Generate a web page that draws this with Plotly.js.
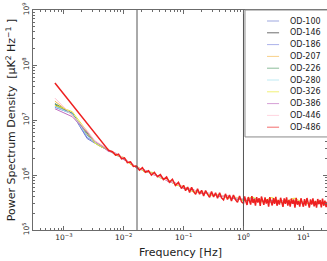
<!DOCTYPE html>
<html>
<head>
<meta charset="utf-8">
<script src="https://cdn.plot.ly/plotly-3.0.1.min.js"></script>
<style>html,body{margin:0;padding:0;background:#fff;}#chart{width:327px;height:261px;}</style>
</head>
<body>
<div id="chart"></div>
<script>
// ---- data ----
var seriesNames = ['OD-100','OD-146','OD-186','OD-207','OD-226','OD-280','OD-326','OD-386','OD-446','OD-486'];
var seriesColors = ['#6a7bcf','#222222','#7f89e0','#f6b84a','#4f9a66','#9fe0ee','#eaea30','#c06ec0','#ffc0d0','#ee2020'];

var freq = [7.1e-4, 1.38e-3, 2.45e-3, 3.3e-3, 4.3e-3, 5.5e-3, 7.3e-3, 0.01, 0.013, 0.017, 0.022, 0.03, 0.04, 0.055, 0.075, 0.1, 0.14, 0.2, 0.28, 0.4, 0.55, 0.75, 1.0, 1.4, 2, 3, 4.5, 7, 11, 17, 25];

var od100 = [1.7e7, 1.3e7, 4.6e6, 3.8e6, 3.2e6, 2.9e6, 2.3e6, 2.05e6, 1.58e6, 1.38e6, 1.16e6, 1.10e6, 9.0e5, 8.1e5, 6.6e5, 6.1e5, 5.1e5, 4.9e5, 4.4e5, 4.3e5, 3.9e5, 3.85e5, 3.45e5, 3.9e5, 3.3e5, 3.45e5, 3.15e5, 3.3e5, 3.05e5, 3.2e5, 2.95e5];
var od146 = [1.9e7, 1.3e7, 5.3e6, 3.9e6, 3.35e6, 2.8e6, 2.45e6, 1.95e6, 1.65e6, 1.32e6, 1.22e6, 1.05e6, 9.4e5, 7.8e5, 6.9e5, 5.8e5, 5.3e5, 4.75e5, 4.55e5, 4.15e5, 4.05e5, 3.7e5, 3.6e5, 3.4e5, 3.45e5, 3.25e5, 3.3e5, 3.1e5, 3.2e5, 3.05e5, 3.1e5];
var od186 = [1.8e7, 1.35e7, 4.8e6, 4.0e6, 3.2e6, 2.9e6, 2.35e6, 2.05e6, 1.6e6, 1.4e6, 1.17e6, 1.09e6, 9.1e5, 8.0e5, 6.7e5, 6.0e5, 5.15e5, 4.9e5, 4.4e5, 4.3e5, 3.9e5, 3.85e5, 3.5e5, 3.55e5, 3.3e5, 3.4e5, 3.15e5, 3.25e5, 3.05e5, 3.15e5, 3.0e5];
var od207 = [2.2e7, 1.25e7, 5.6e6, 3.95e6, 3.4e6, 2.75e6, 2.45e6, 1.95e6, 1.66e6, 1.32e6, 1.23e6, 1.04e6, 9.5e5, 7.7e5, 7.0e5, 5.8e5, 5.4e5, 4.7e5, 4.6e5, 4.1e5, 4.1e5, 3.65e5, 3.65e5, 3.4e5, 3.5e5, 3.2e5, 3.35e5, 3.1e5, 3.2e5, 3.0e5, 3.1e5];
var od226 = [2.0e7, 1.3e7, 5.8e6, 3.9e6, 3.3e6, 2.85e6, 2.38e6, 2.02e6, 1.6e6, 1.37e6, 1.19e6, 1.08e6, 9.2e5, 7.9e5, 6.75e5, 5.95e5, 5.2e5, 4.85e5, 4.45e5, 4.25e5, 3.95e5, 3.8e5, 3.5e5, 3.5e5, 3.35e5, 3.35e5, 3.2e5, 3.2e5, 3.1e5, 3.1e5, 3.05e5];
var od280 = [1.75e7, 1.28e7, 5.2e6, 3.95e6, 3.3e6, 2.8e6, 2.4e6, 2.0e6, 1.62e6, 1.36e6, 1.2e6, 1.07e6, 9.3e5, 7.9e5, 6.8e5, 5.9e5, 5.25e5, 4.8e5, 4.5e5, 4.2e5, 4.0e5, 3.75e5, 3.55e5, 3.45e5, 3.4e5, 3.3e5, 3.25e5, 3.15e5, 3.15e5, 3.05e5, 3.05e5];
var od326 = [1.85e7, 1.42e7, 6.2e6, 3.8e6, 3.2e6, 2.95e6, 2.3e6, 2.1e6, 1.55e6, 1.42e6, 1.15e6, 1.12e6, 8.9e5, 8.2e5, 6.5e5, 6.2e5, 5.0e5, 5.0e5, 4.3e5, 4.4e5, 3.8e5, 3.95e5, 3.4e5, 4.0e5, 3.25e5, 3.9e5, 3.1e5, 3.8e5, 3.0e5, 3.25e5, 2.95e5];
var od386 = [1.6e7, 1.15e7, 6.0e6, 4.1e6, 3.4e6, 2.7e6, 2.5e6, 1.9e6, 1.7e6, 1.3e6, 1.25e6, 1.02e6, 9.6e5, 7.6e5, 7.1e5, 5.7e5, 5.5e5, 4.65e5, 4.65e5, 4.05e5, 4.15e5, 3.6e5, 3.7e5, 3.35e5, 3.5e5, 3.2e5, 3.35e5, 3.05e5, 3.2e5, 3.0e5, 3.1e5];
var od446 = [2.5e7, 1.2e7, 6.4e6, 4.2e6, 3.5e6, 2.9e6, 2.45e6, 2.05e6, 1.65e6, 1.38e6, 1.22e6, 1.08e6, 9.4e5, 8.0e5, 6.9e5, 6.0e5, 5.3e5, 4.85e5, 4.55e5, 4.25e5, 4.05e5, 3.8e5, 3.6e5, 3.5e5, 3.4e5, 3.35e5, 3.25e5, 3.2e5, 3.15e5, 3.1e5, 3.05e5];

var freqRed = [7.1e-4, 5.6e-3, 6.5e-3, 7.3e-3, 8.2e-3, 9.2e-3, 0.0103, 0.0115, 0.013, 0.0145, 0.0163, 0.0183, 0.0205, 0.023, 0.026, 0.029, 0.0325, 0.0365, 0.041, 0.046, 0.052, 0.058, 0.065, 0.073, 0.082, 0.092,
  0.1, 0.108, 0.117, 0.126, 0.136, 0.147, 0.159, 0.171, 0.185, 0.2, 0.216, 0.233, 0.252, 0.272, 0.293, 0.317, 0.342, 0.369, 0.4, 0.43, 0.465, 0.5, 0.54, 0.585, 0.63, 0.68, 0.735, 0.795, 0.86, 0.93,
  1.0, 1.047, 1.096, 1.148, 1.202, 1.259, 1.318, 1.38, 1.445, 1.514, 1.585, 1.66, 1.738, 1.82, 1.905, 1.995, 2.089, 2.188, 2.291, 2.399, 2.512, 2.63, 2.754, 2.884, 3.02, 3.162, 3.311, 3.467, 3.631, 3.802, 3.981, 4.169, 4.365, 4.571, 4.786, 5.012, 5.248, 5.495, 5.754, 6.026, 6.31, 6.607, 6.918, 7.244, 7.586, 7.943, 8.318, 8.71, 9.12, 9.55, 10.0, 10.47, 10.96, 11.48, 12.02, 12.59, 13.18, 13.8, 14.45, 15.14, 15.85, 16.6, 17.38, 18.2, 19.05, 19.95, 20.89, 21.88, 22.91, 23.99, 25.0];
var od486 = [4.7e7, 2.8e6, 2.65e6, 2.3e6, 2.39e6, 1.97e6, 2.05e6, 1.67e6, 1.73e6, 1.43e6, 1.45e6, 1.22e6, 1.36e6, 1.12e6, 1.20e6, 9.94e5, 1.12e6, 9.3e5, 1.02e6, 8.28e5, 9.27e5, 7.36e5, 8.36e5, 6.46e5, 7.37e5, 5.67e5,
  6.49e5, 5.18e5, 6.05e5, 4.81e5, 5.99e5, 4.99e5, 4.48e5, 5.61e5, 4.49e5, 5.28e5, 4.15e5, 5.21e5, 4.44e5, 3.93e5, 5.01e5, 3.98e5, 4.76e5, 3.78e5, 4.75e5, 3.86e5, 3.53e5, 4.54e5, 3.58e5, 4.31e5, 3.37e5, 4.32e5, 3.56e5, 3.18e5, 4.16e5, 3.24e5,
  3.04e5, 4.07e5, 3.28e5, 2.86e5, 3.97e5, 3.52e5, 2.90e5, 4.14e5, 3.10e5, 3.65e5, 2.77e5, 3.95e5, 3.14e5, 3.79e5, 2.74e5, 4.06e5, 3.28e5, 2.87e5, 3.92e5, 3.01e5, 3.65e5, 2.66e5, 3.95e5, 3.32e5, 2.79e5, 3.78e5, 2.99e5, 4.02e5, 2.76e5, 3.52e5, 2.89e5, 3.85e5, 3.13e5, 2.64e5, 3.75e5, 3.00e5, 3.91e5, 2.77e5, 3.52e5, 2.67e5, 3.74e5, 3.01e5, 3.58e5, 2.56e5, 3.84e5, 2.88e5, 3.36e5, 2.66e5, 3.78e5, 3.10e5, 2.65e5, 3.65e5, 2.77e5, 3.81e5, 3.15e5, 2.55e5, 3.59e5, 2.90e5, 3.75e5, 2.68e5, 3.37e5, 2.54e5, 3.66e5, 2.95e5, 3.50e5, 2.57e5, 3.72e5, 2.76e5, 3.41e5, 2.60e5, 3.26e5];

var markerFreqs = [1 / 60, 1.0];

var xTickVals = [0.001, 0.01, 0.1, 1, 10];
var xTickText = ['10<sup>\u22123</sup>', '10<sup>\u22122</sup>', '10<sup>\u22121</sup>', '10<sup>0</sup>', '10<sup>1</sup>'];
var yTickVals = [1e5, 1e6, 1e7, 1e8, 1e9];
var yTickText = ['10<sup>5</sup>', '10<sup>6</sup>', '10<sup>7</sup>', '10<sup>8</sup>', '10<sup>9</sup>'];

// ---- build ----
var seriesY = [od100, od146, od186, od207, od226, od280, od326, od386, od446, od486];
var traces = [];
for (var i = 0; i < seriesNames.length; i++) {
  var isRed = (i === seriesNames.length - 1);
  traces.push({
    type: 'scatter', mode: 'lines', name: seriesNames[i],
    x: isRed ? freqRed : freq, y: seriesY[i],
    line: {color: seriesColors[i], width: isRed ? 1.5 : 1},
    showlegend: false, hoverinfo: 'skip'
  });
}
markerFreqs.forEach(function (v) {
  traces.push({type: 'scatter', mode: 'lines', x: [v, v], y: [1e5, 1e9],
    line: {color: '#555555', width: 1}, showlegend: false, hoverinfo: 'skip'});
});

function minorVals(lo, hi) {
  var out = [];
  for (var p = lo; p <= hi; p++) for (var m = 2; m <= 9; m++) out.push(m * Math.pow(10, p));
  return out;
}

var font = 'DejaVu Sans, sans-serif';
var axColor = '#6b6b6b';

// custom legend
var shapes = [{type: 'rect', xref: 'paper', yref: 'paper', x0: 0.721, x1: 1.01, y0: 0.423, y1: 1.0,
  fillcolor: '#ffffff', line: {color: '#8a8a8a', width: 1}, layer: 'above'}];
var annotations = [];
for (var j = 0; j < seriesNames.length; j++) {
  var yc = (230 - (21 + 11.8 * j)) / 220;
  shapes.push({type: 'line', xref: 'paper', yref: 'paper', x0: 0.796, x1: 0.837, y0: yc, y1: yc,
    line: {color: seriesColors[j], width: 1}, opacity: 0.65, layer: 'above'});
  annotations.push({xref: 'paper', yref: 'paper', x: 0.866, y: yc, xanchor: 'left', yanchor: 'middle',
    text: seriesNames[j], showarrow: false, font: {family: font, size: 8, color: '#222'}});
}
// x-axis title
annotations.push({xref: 'paper', yref: 'paper', x: 0.502, y: -0.1045, xanchor: 'center', yanchor: 'middle',
  text: 'Frequency [Hz]', showarrow: false, font: {family: font, size: 11, color: '#222'}});

var layout = {
  width: 327, height: 261,
  margin: {l: 33, r: 0, t: 10, b: 31},
  paper_bgcolor: '#fff', plot_bgcolor: '#fff',
  showlegend: false,
  xaxis: {
    type: 'log', range: [-3.515, 1.395],
    tickmode: 'array', tickvals: xTickVals, ticktext: xTickText,
    ticks: 'inside', ticklen: 4, tickcolor: axColor, tickwidth: 1,
    minor: {tickmode: 'array', tickvals: minorVals(-4, 1), ticks: 'inside', ticklen: 2, tickcolor: axColor, showgrid: false},
    showline: true, linecolor: axColor, linewidth: 1, mirror: 'allticks',
    showgrid: false, zeroline: false,
    tickfont: {family: font, size: 7.5, color: '#222'},
    automargin: false
  },
  yaxis: {
    type: 'log', range: [5, 9],
    tickmode: 'array', tickvals: yTickVals, ticktext: yTickText, tickangle: -90,
    ticks: 'inside', ticklen: 4, tickcolor: axColor, tickwidth: 1,
    minor: {tickmode: 'array', tickvals: minorVals(5, 8), ticks: 'inside', ticklen: 2, tickcolor: axColor, showgrid: false},
    showline: true, linecolor: axColor, linewidth: 1, mirror: 'allticks',
    showgrid: false, zeroline: false,
    tickfont: {family: font, size: 7.5, color: '#222'},
    title: {text: 'Power Spectrum Density  [\u03bcK<sup>2</sup> Hz<sup>\u22121</sup> ]', font: {family: font, size: 11, color: '#222'}, standoff: 2},
    automargin: false
  },
  shapes: shapes,
  annotations: annotations
};

Plotly.newPlot('chart', traces, layout, {displayModeBar: false, staticPlot: true});
</script>
</body>
</html>
